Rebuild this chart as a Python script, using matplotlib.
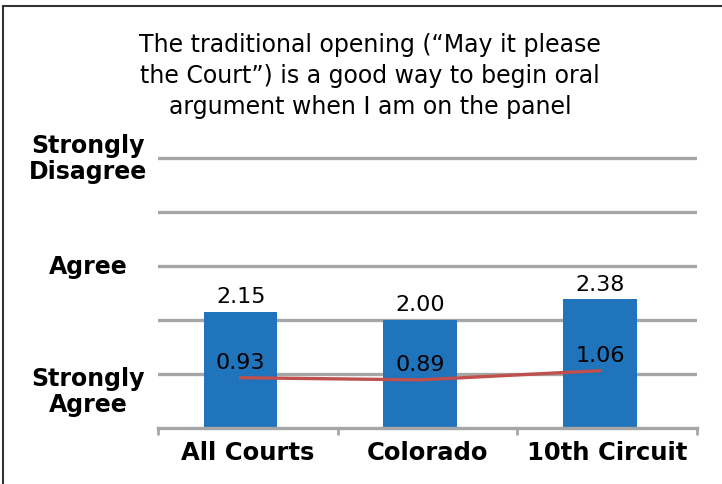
import matplotlib
matplotlib.use("Agg")
import matplotlib.pyplot as plt
from matplotlib.patches import Rectangle

plt.rcParams['font.family'] = ['DejaVu Sans']

# data
courts = ["All Courts", "Colorado", "10th Circuit"]
bar_vals = [2.15, 2.00, 2.38]
line_vals = [0.93, 0.89, 1.06]
scale_labels = ["Strongly\nAgree", "Agree", "Strongly\nDisagree"]
scale_pos = [0.68, 3, 5]

title = ("The traditional opening (\u201cMay it please\n"
         "the Court\u201d) is a good way to begin oral\n"
         "argument when I am on the panel")

W, H = 722, 485
fig = plt.figure(figsize=(W / 100, H / 100), dpi=100)
ax = fig.add_axes([158 / W, 1 - 429 / H, (697 - 158) / W, (429 - 157) / H])

x = list(range(len(courts)))
bars = ax.bar([i - 0.04 for i in x], bar_vals, width=0.41, color="#1f74bb", zorder=2)
ax.plot([i - 0.04 for i in x], line_vals, color="#c0504d", lw=2.4, zorder=3)

for i, v in enumerate(bar_vals):
    ax.annotate(f"{v:.2f}", (i - 0.04, v), xytext=(0, 4), textcoords="offset points",
                ha="center", va="bottom", fontsize=16)
for i, v in enumerate(line_vals):
    ax.annotate(f"{v:.2f}", (i - 0.04, v), xytext=(0, 4), textcoords="offset points",
                ha="center", va="bottom", fontsize=16)

ax.set_xlim(-0.5, 2.5)
ax.set_ylim(0, 5.03)
ax.set_yticks([1, 2, 3, 4, 5])
ax.yaxis.grid(True, color="#a6a6a6", lw=2.4, zorder=0)
ax.set_axisbelow(True)
ax.tick_params(axis="y", length=0, labelleft=False)

ax.set_xticks(x)
ax.set_xticklabels(courts, fontsize=17.5, fontweight="bold")
ax.set_xticks([-0.5, 0.5, 1.5, 2.5], minor=True)
ax.tick_params(axis="x", which="major", length=0, pad=9)
ax.tick_params(axis="x", which="minor", length=5, width=2, color="#a6a6a6")

for s in ["top", "right", "left"]:
    ax.spines[s].set_visible(False)
ax.spines["bottom"].set_color("#a6a6a6")
ax.spines["bottom"].set_linewidth(2.4)

for lab, pos in zip(scale_labels, scale_pos):
    ax.text(-0.13, pos, lab, transform=ax.get_yaxis_transform(), ha="center",
            va="center", fontsize=17, fontweight="bold", linespacing=1.1)

fig.text(370 / W, 1 - 33 / H, title, ha="center", va="top", fontsize=17,
         linespacing=1.38)

fig.add_artist(Rectangle((3 / W, -0.1), 1.2, 1.1 - 7 / H, transform=fig.transFigure,
                         fill=False, edgecolor="#333333", lw=1.5))

fig.savefig("out.png", dpi=100)
